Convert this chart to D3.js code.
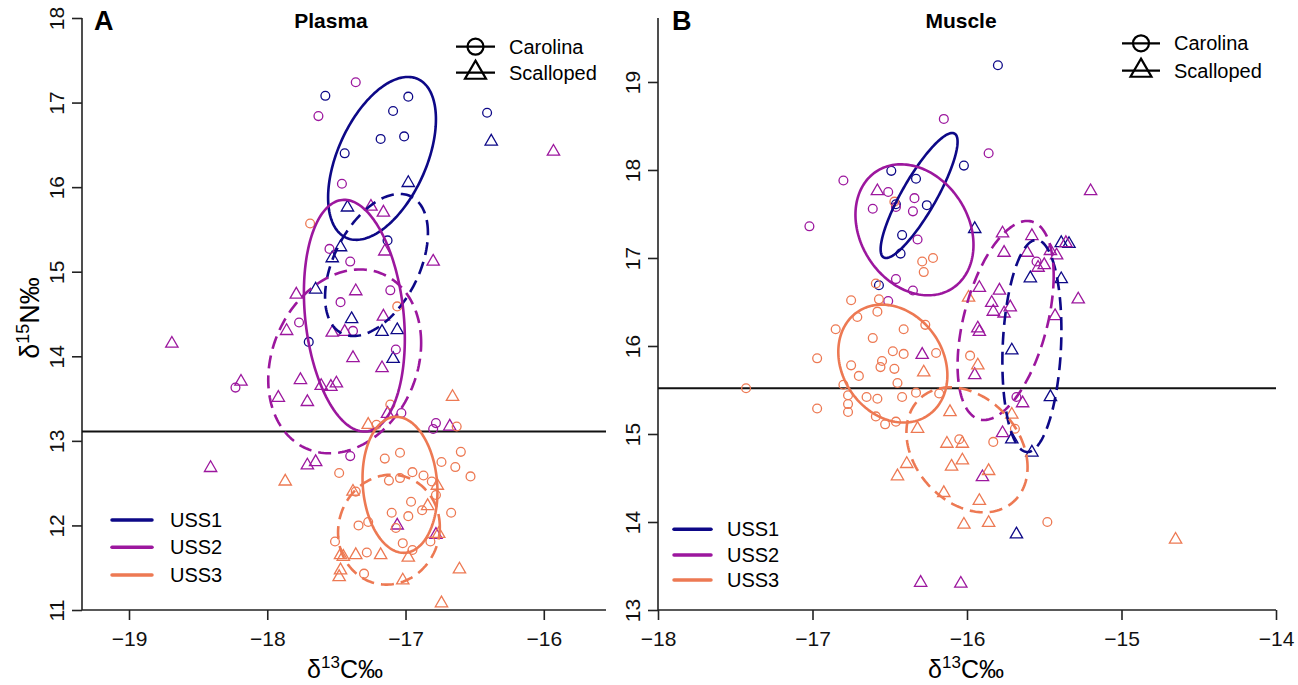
<!DOCTYPE html>
<html><head><meta charset="utf-8">
<script src="https://cdn.jsdelivr.net/npm/d3@7"></script>
<style>body{margin:0;background:#fff}svg{display:block}text{font-family:"Liberation Sans",Arial,sans-serif}</style>
</head><body>
<script>
// ---------------- DATA ----------------
const groups = ["USS1","USS2","USS3"];
const species = ["Carolina","Scalloped"];
const xTicksA = [-19,-18,-17,-16];
const yTicksA = [11,12,13,14,15,16,17,18];
const xTicksB = [-18,-17,-16,-15,-14];
const yTicksB = [13,14,15,16,17,18,19];
const thresholdA = 13.11;
const thresholdB = 15.52;

// Plasma (panel A) [d13C, d15N]
const plasmaUSS1Car = [[-17.58,17.08],[-16.98,17.07],[-17.09,16.90],[-17.18,16.57],[-17.01,16.60],[-17.44,16.40],[-16.41,16.88],[-17.13,15.37],[-17.70,14.17]];
const plasmaUSS1Sca = [[-16.38,16.54],[-16.98,16.05],[-17.42,15.76],[-17.47,15.29],[-17.53,15.16],[-17.65,14.79],[-17.39,14.44],[-17.17,14.29],[-17.06,14.31],[-17.09,13.97]];
const plasmaUSS2Car = [[-17.36,17.24],[-17.63,16.84],[-17.46,16.04],[-17.55,15.27],[-17.40,15.12],[-17.47,14.64],[-17.77,14.40],[-17.38,14.30],[-17.11,14.78],[-17.07,14.08],[-18.23,13.63],[-17.03,13.33],[-16.78,13.21],[-16.80,13.14],[-17.40,12.82]];
const plasmaUSS2Sca = [[-15.93,16.42],[-17.25,15.77],[-17.16,15.70],[-17.15,15.24],[-16.80,15.12],[-17.79,14.73],[-17.36,14.77],[-17.16,14.47],[-17.86,14.30],[-17.53,14.28],[-17.44,14.29],[-18.69,14.15],[-17.38,13.98],[-17.17,13.86],[-18.19,13.70],[-17.76,13.72],[-17.61,13.65],[-17.54,13.64],[-17.50,13.68],[-17.92,13.51],[-17.71,13.46],[-17.13,13.32],[-16.68,13.17],[-18.41,12.68],[-17.71,12.71],[-17.65,12.75],[-17.06,12.00],[-16.78,11.89]];
const plasmaUSS3Car = [[-17.69,15.57],[-17.06,14.59],[-17.11,13.43],[-17.21,13.19],[-16.63,13.17],[-17.48,12.62],[-17.15,12.79],[-17.04,12.86],[-16.60,12.87],[-16.74,12.75],[-16.64,12.69],[-16.53,12.58],[-16.95,12.63],[-16.87,12.59],[-17.12,12.53],[-17.04,12.56],[-16.81,12.52],[-16.78,12.36],[-17.36,12.40],[-16.96,12.28],[-16.88,12.18],[-17.10,12.15],[-16.98,12.11],[-16.67,12.15],[-17.34,12.00],[-17.27,12.04],[-17.07,11.97],[-17.02,11.79],[-16.82,11.81],[-17.28,11.68],[-16.95,11.71],[-17.30,11.43],[-17.51,11.81]];
const plasmaUSS3Sca = [[-16.66,13.52],[-17.27,13.19],[-17.87,12.52],[-17.38,12.40],[-16.77,12.47],[-16.84,12.23],[-16.76,11.90],[-17.47,11.65],[-17.45,11.63],[-17.36,11.65],[-17.18,11.65],[-16.98,11.62],[-17.47,11.47],[-17.48,11.39],[-16.61,11.48],[-17.02,11.35],[-16.74,11.08]];

// Muscle (panel B)
const muscleUSS1Car = [[-15.80,19.19],[-16.49,17.99],[-16.33,17.90],[-16.02,18.05],[-16.46,17.61],[-16.26,17.60],[-16.42,17.26],[-16.43,17.05],[-16.57,16.69]];
const muscleUSS1Sca = [[-15.95,17.33],[-15.39,17.17],[-15.34,17.16],[-15.59,16.77],[-15.39,16.76],[-15.71,15.95],[-15.46,15.42],[-15.71,14.94],[-15.58,14.79],[-15.68,13.86]];
const muscleUSS2Car = [[-16.15,18.58],[-15.86,18.19],[-16.80,17.88],[-16.51,17.75],[-16.46,17.58],[-16.34,17.68],[-16.35,17.53],[-16.61,17.56],[-17.02,17.36],[-16.32,17.21],[-16.46,16.76],[-16.35,16.63],[-16.51,16.51],[-15.55,16.96],[-15.68,15.42]];
const muscleUSS2Sca = [[-16.58,17.76],[-15.20,17.76],[-15.77,17.28],[-15.58,17.25],[-15.36,17.17],[-15.76,17.06],[-15.61,17.06],[-15.46,17.08],[-15.42,17.03],[-15.54,16.89],[-15.50,16.92],[-15.28,16.53],[-15.92,16.66],[-15.79,16.63],[-15.84,16.49],[-15.83,16.39],[-15.76,16.37],[-15.72,16.44],[-15.43,16.34],[-15.93,16.20],[-15.92,16.16],[-16.29,15.90],[-15.95,15.67],[-15.64,15.35],[-15.77,15.01],[-15.90,14.51],[-16.30,13.31],[-16.04,13.30]];
const muscleUSS3Car = [[-16.47,17.64],[-16.29,16.96],[-16.22,17.00],[-16.28,16.84],[-16.59,16.71],[-16.75,16.52],[-16.57,16.53],[-16.58,16.39],[-16.71,16.33],[-16.85,16.19],[-16.41,16.19],[-16.27,16.24],[-16.61,16.09],[-16.97,15.86],[-16.48,15.94],[-16.41,15.91],[-16.55,15.83],[-16.20,15.92],[-16.56,15.76],[-16.47,15.74],[-16.75,15.78],[-16.70,15.66],[-16.45,15.58],[-16.80,15.56],[-16.33,15.47],[-16.18,15.46],[-16.77,15.44],[-16.65,15.42],[-16.58,15.40],[-16.42,15.42],[-16.77,15.34],[-16.77,15.25],[-16.97,15.29],[-16.59,15.20],[-16.53,15.11],[-16.46,15.14],[-17.43,15.52],[-15.98,15.89],[-15.69,15.06],[-15.83,14.91],[-16.05,14.94],[-15.48,14.00]];
const muscleUSS3Sca = [[-16.28,15.70],[-15.99,16.55],[-15.93,15.78],[-16.11,15.25],[-16.32,15.06],[-15.71,15.22],[-16.13,14.89],[-16.03,14.89],[-16.10,14.63],[-16.03,14.70],[-15.86,14.58],[-16.39,14.66],[-16.45,14.52],[-16.15,14.33],[-15.92,14.24],[-16.02,13.97],[-15.86,13.99],[-14.65,13.80]];

// standard ellipses: centre, half-extent in x & y, correlation
const plasmaEllipses = [
  {g:"USS1", sp:"Carolina",  cx:-17.17, cy:16.34, sx:0.390, sy:0.963, rho:0.48},
  {g:"USS1", sp:"Scalloped", cx:-17.21, cy:15.08, sx:0.372, sy:0.840, rho:0.45},
  {g:"USS2", sp:"Carolina",  cx:-17.37, cy:14.48, sx:0.365, sy:1.370, rho:-0.20},
  {g:"USS2", sp:"Scalloped", cx:-17.44, cy:13.94, sx:0.553, sy:1.087, rho:0.20},
  {g:"USS3", sp:"Carolina",  cx:-17.04, cy:12.48, sx:0.271, sy:0.804, rho:-0.10},
  {g:"USS3", sp:"Scalloped", cx:-17.12, cy:11.95, sx:0.368, sy:0.650, rho:0.05}
];
const muscleEllipses = [
  {g:"USS1", sp:"Carolina",  cx:-16.31, cy:17.71, sx:0.249, sy:0.710, rho:0.86},
  {g:"USS1", sp:"Scalloped", cx:-15.58, cy:16.00, sx:0.191, sy:1.205, rho:0.15},
  {g:"USS2", sp:"Carolina",  cx:-16.34, cy:17.32, sx:0.382, sy:0.744, rho:-0.23},
  {g:"USS2", sp:"Scalloped", cx:-15.75, cy:16.29, sx:0.311, sy:1.131, rho:0.45},
  {g:"USS3", sp:"Carolina",  cx:-16.48, cy:15.80, sx:0.353, sy:0.670, rho:-0.20},
  {g:"USS3", sp:"Scalloped", cx:-16.00, cy:14.82, sx:0.392, sy:0.710, rho:-0.28}
];

// ---------------- STYLE / LAYOUT ----------------
const color = d3.scaleOrdinal().domain(groups).range(["#0D0887","#9C179E","#ED7953"]);
const W = 1298, H = 685;
const svg = d3.select("body").append("svg").attr("width",W).attr("height",H);

const panels = [
  {letter:"A", title:"Plasma", xDom:[-19.34,-15.55], xR:[82,606], yDom:[11,18], yR:[610,18],
   xt:xTicksA, yt:yTicksA, thr:thresholdA, ell:plasmaEllipses, yTitle:true,
   pts:[["USS1","Carolina",plasmaUSS1Car],["USS1","Scalloped",plasmaUSS1Sca],["USS2","Carolina",plasmaUSS2Car],["USS2","Scalloped",plasmaUSS2Sca],["USS3","Carolina",plasmaUSS3Car],["USS3","Scalloped",plasmaUSS3Sca]],
   shapeLeg:{x1:456,x2:495,y:[46.7,72.7],tx:509}, colLeg:{x1:112,x2:152,y:[520,547.3,575],tx:170},
   letterX:94, titleX:331, xTitleX:345},
  {letter:"B", title:"Muscle", xDom:[-18,-14], xR:[658,1276], yDom:[13,19.727], yR:[610,18],
   xt:xTicksB, yt:yTicksB, thr:thresholdB, ell:muscleEllipses, yTitle:false,
   pts:[["USS1","Carolina",muscleUSS1Car],["USS1","Scalloped",muscleUSS1Sca],["USS2","Carolina",muscleUSS2Car],["USS2","Scalloped",muscleUSS2Sca],["USS3","Carolina",muscleUSS3Car],["USS3","Scalloped",muscleUSS3Sca]],
   shapeLeg:{x1:1122,x2:1160,y:[43.3,70.7],tx:1174}, colLeg:{x1:674,x2:711,y:[529.3,555,580],tx:727},
   letterX:672, titleX:961, xTitleX:966}
];

const tri = d3.symbol().type(d3.symbolTriangle).size(66);
const triBig = d3.symbol().type(d3.symbolTriangle).size(190);

panels.forEach(p => {
  const x = d3.scaleLinear().domain(p.xDom).range(p.xR);
  const y = d3.scaleLinear().domain(p.yDom).range(p.yR);
  const g = svg.append("g");

  // axes frame (L shape)
  g.append("line").attr("x1",p.xR[0]).attr("x2",p.xR[1]).attr("y1",p.yR[0]).attr("y2",p.yR[0]).attr("stroke","#222").attr("stroke-width",1.6);
  g.append("line").attr("x1",p.xR[0]).attr("x2",p.xR[0]).attr("y1",p.yR[0]).attr("y2",p.yR[1]).attr("stroke","#222").attr("stroke-width",1.6);

  const xa = g.append("g").attr("transform",`translate(0,${p.yR[0]})`)
    .call(d3.axisBottom(x).tickValues(p.xt).tickSize(10).tickPadding(11).tickFormat(d=>(d<0?"\u2212":"")+Math.abs(d)));
  xa.select(".domain").remove();
  xa.selectAll("line").attr("stroke","#222").attr("stroke-width",1.6);
  xa.selectAll("text").attr("font-size",21).attr("fill","#111");

  const ya = g.append("g").attr("transform",`translate(${p.xR[0]},0)`)
    .call(d3.axisLeft(y).tickValues(p.yt).tickSize(10).tickFormat(d3.format("d")));
  ya.select(".domain").remove();
  ya.selectAll("line").attr("stroke","#222").attr("stroke-width",1.6);
  ya.selectAll("text").attr("font-size",21).attr("fill","#111")
    .attr("x",null).attr("dy",null).attr("text-anchor","middle")
    .attr("transform","translate(-18,0) rotate(-90)").attr("dy","0em");

  // threshold line
  g.append("line").attr("x1",p.xR[0]).attr("x2",p.xR[1]).attr("y1",y(p.thr)).attr("y2",y(p.thr)).attr("stroke","#111").attr("stroke-width",2);

  // points
  p.pts.forEach(([grp,sp,arr]) => {
    const c = color(grp);
    if (sp === "Carolina") {
      g.selectAll(null).data(arr).enter().append("circle")
        .attr("cx",d=>x(d[0])).attr("cy",d=>y(d[1])).attr("r",4.4)
        .attr("fill","none").attr("stroke",c).attr("stroke-width",1.3);
    } else {
      g.selectAll(null).data(arr).enter().append("path")
        .attr("d",tri).attr("transform",d=>`translate(${x(d[0])},${y(d[1])})`)
        .attr("fill","none").attr("stroke",c).attr("stroke-width",1.3);
    }
  });

  // ellipses
  const line = d3.line().x(d=>x(d[0])).y(d=>y(d[1])).curve(d3.curveLinearClosed);
  p.ell.forEach(e => {
    const pts = d3.range(0, 360, 2).map(a => {
      const t = a*Math.PI/180;
      return [e.cx + e.sx*Math.cos(t), e.cy + e.sy*(e.rho*Math.cos(t) + Math.sqrt(1-e.rho*e.rho)*Math.sin(t))];
    });
    g.append("path").attr("d",line(pts)).attr("fill","none")
      .attr("stroke",color(e.g)).attr("stroke-width",2.6)
      .attr("stroke-dasharray", e.sp==="Scalloped" ? "13,7" : null);
  });

  // panel letter & title
  g.append("text").attr("x",p.letterX).attr("y",30).attr("font-size",27).attr("font-weight","bold").text(p.letter);
  g.append("text").attr("x",p.titleX).attr("y",28).attr("font-size",21).attr("font-weight","bold").attr("text-anchor","middle").text(p.title);

  // x title
  const xt = g.append("text").attr("x",p.xTitleX).attr("y",678).attr("font-size",25).attr("text-anchor","middle");
  xt.append("tspan").text("δ");
  xt.append("tspan").attr("font-size",17).attr("dy",-10).text("13");
  xt.append("tspan").attr("dy",10).text("C‰");

  if (p.yTitle) {
    const yt = g.append("text").attr("transform",`translate(39,318) rotate(-90)`).attr("font-size",27).attr("text-anchor","middle");
    yt.append("tspan").text("δ");
    yt.append("tspan").attr("font-size",18).attr("dy",-10).text("15");
    yt.append("tspan").attr("dy",10).text("N‰");
  }

  // shape legend
  const sl = p.shapeLeg, cxm = (sl.x1+sl.x2)/2;
  species.forEach((s,i) => {
    const yy = sl.y[i];
    g.append("line").attr("x1",sl.x1).attr("x2",sl.x2).attr("y1",yy).attr("y2",yy).attr("stroke","#000").attr("stroke-width",2.2);
    if (i===0) g.append("circle").attr("cx",cxm).attr("cy",yy).attr("r",8).attr("fill","none").attr("stroke","#000").attr("stroke-width",2.2);
    else g.append("path").attr("d",triBig).attr("transform",`translate(${cxm},${yy})`).attr("fill","none").attr("stroke","#000").attr("stroke-width",2.2);
    g.append("text").attr("x",sl.tx).attr("y",yy+7).attr("font-size",20).text(s);
  });

  // colour legend
  const cl = p.colLeg;
  groups.forEach((gr,i) => {
    const yy = cl.y[i];
    g.append("line").attr("x1",cl.x1).attr("x2",cl.x2).attr("y1",yy).attr("y2",yy).attr("stroke",color(gr)).attr("stroke-width",3.5).attr("stroke-linecap","round");
    g.append("text").attr("x",cl.tx).attr("y",yy+7).attr("font-size",20).text(gr);
  });
});
</script>
</body></html>
